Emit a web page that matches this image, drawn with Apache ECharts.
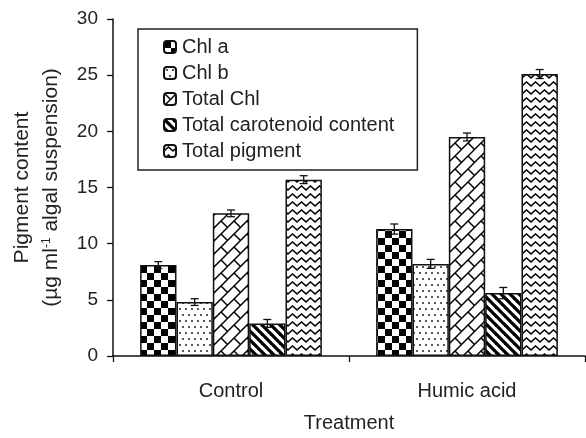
<!DOCTYPE html>
<html>
<head>
<meta charset="utf-8">
<script src="https://cdn.jsdelivr.net/npm/echarts@6/dist/echarts.min.js"></script>
<style>
html,body{margin:0;padding:0;background:#fff;}
#chart{width:586px;height:438px;}
</style>
</head>
<body>
<div id="chart"></div>
<script>
// ---- data ----
const categories = ['Control', 'Humic acid'];
const seriesNames = ['Chl a', 'Chl b', 'Total Chl', 'Total carotenoid content', 'Total pigment'];
const chlA = [8.1, 11.3];
const chlB = [4.8, 8.2];
const totalChl = [12.7, 19.5];
const carotenoid = [2.9, 5.6];
const totalPigment = [15.7, 25.1];
const chlAErr = [0.3, 0.45];
const chlBErr = [0.3, 0.4];
const totalChlErr = [0.3, 0.35];
const carotenoidErr = [0.35, 0.5];
const totalPigmentErr = [0.35, 0.4];
const yTicks = [0, 5, 10, 15, 20, 25, 30];

const values = [chlA, chlB, totalChl, carotenoid, totalPigment];
const errors = [chlAErr, chlBErr, totalChlErr, carotenoidErr, totalPigmentErr];

// ---- patterns ----
function tile(w, h, draw) {
  const c = document.createElement('canvas');
  c.width = w; c.height = h;
  const g = c.getContext('2d');
  g.fillStyle = '#fff'; g.fillRect(0, 0, w, h);
  g.strokeStyle = '#000'; g.fillStyle = '#000';
  draw(g, w, h);
  return { image: c, repeat: 'repeat' };
}
const patChecker = tile(14, 14, (g) => {
  g.fillRect(0, 0, 7, 7); g.fillRect(7, 7, 7, 7);
});
const patDots = tile(12, 12, (g) => {
  g.fillStyle = '#333';
  [[3, 3], [9, 3], [0, 9], [6, 9], [12, 9]].forEach(([x, y]) => { g.beginPath(); g.arc(x, y, 1.1, 0, Math.PI * 2); g.fill(); });
});
const patBrick = tile(13, 13, (g, s) => {
  g.lineWidth = 1.5;
  const seg = (a, b, c, d) => { g.beginPath(); g.moveTo(a, b); g.lineTo(c, d); g.stroke(); };
  seg(-1, s + 1, s + 1, -1);
  seg(-1, 1, 1, -1); seg(s - 1, s + 1, s + 1, s - 1);
  seg(0, 0, s / 2, s / 2);
  seg(s, s, s + 2, s + 2);
});
const patStripes = tile(9, 9, (g, s) => {
  g.lineWidth = 3.3;
  const seg = (a, b, c, d) => { g.beginPath(); g.moveTo(a, b); g.lineTo(c, d); g.stroke(); };
  seg(-2, -2, s + 2, s + 2);
  seg(-2 + s, -2, s + 2 + s, s + 2);
  seg(-2 - s, -2, s + 2 - s, s + 2);
});
const patZigzag = tile(9, 8, (g) => {
  g.lineWidth = 1.4;
  g.beginPath(); g.moveTo(-2.25, 2); g.lineTo(0, 6); g.lineTo(4.5, 2); g.lineTo(9, 6); g.lineTo(11.25, 2); g.stroke();
});
const patterns = [patChecker, patDots, patBrick, patStripes, patZigzag];

const GAP = 0.23;
const font = 'Liberation Sans, Arial, sans-serif';
const textColor = '#222';

const barSeries = seriesNames.map((name, i) => ({
  name: name,
  type: 'bar',
  data: values[i],
  barGap: '0%',
  barCategoryGap: (GAP * 100) + '%',
  itemStyle: { color: patterns[i], borderColor: '#111', borderWidth: 1.5 },
  emphasis: { disabled: true },
  z: 2
}));

const errData = [];
values.forEach((arr, i) => arr.forEach((v, j) => errData.push([j, v, errors[i][j], i])));

const errSeries = {
  type: 'custom',
  silent: true,
  z: 5,
  data: errData,
  renderItem: function (params, api) {
    const j = api.value(0), v = api.value(1), e = api.value(2), i = api.value(3);
    const band = api.size([1, 0])[0];
    const bw = band * (1 - GAP) / 5;
    const c = api.coord([j, v]);
    const x = c[0] + (i - 2) * bw;
    const top = api.coord([j, v + e])[1];
    const bot = api.coord([j, v - e])[1];
    const hw = 4;
    const st = { stroke: '#111', lineWidth: 1.3 };
    return {
      type: 'group',
      children: [
        { type: 'line', shape: { x1: x, y1: top, x2: x, y2: bot }, style: st },
        { type: 'line', shape: { x1: x - hw, y1: top, x2: x + hw, y2: top }, style: st },
        { type: 'line', shape: { x1: x - hw, y1: bot, x2: x + hw, y2: bot }, style: st }
      ]
    };
  }
};

const chart = echarts.init(document.getElementById('chart'), null, { renderer: 'canvas' });
chart.setOption({
  animation: false,
  backgroundColor: '#fff',
  textStyle: { fontFamily: font, color: textColor },
  grid: { left: 113, right: 1, top: 19, bottom: 77, containLabel: false },
  legend: {
    data: seriesNames,
    orient: 'vertical',
    left: 138,
    top: 29,
    padding: [8, 23, 9, 25],
    itemGap: 6,
    itemWidth: 12,
    itemHeight: 12,
    borderColor: '#222',
    borderWidth: 1.5,
    backgroundColor: '#fff',
    selectedMode: false,
    textStyle: { fontFamily: font, fontSize: 20, color: textColor, padding: [0, 0, 0, 1] }
  },
  xAxis: {
    type: 'category',
    data: categories,
    name: 'Treatment',
    nameLocation: 'middle',
    nameGap: 57,
    nameTextStyle: { fontFamily: font, fontSize: 20, color: textColor },
    axisLine: { lineStyle: { color: '#111', width: 1.5 } },
    axisTick: { show: true, length: 6, lineStyle: { color: '#111', width: 1.3 } },
    axisLabel: { fontFamily: font, fontSize: 20, color: textColor, margin: 25 }
  },
  yAxis: {
    type: 'value',
    min: yTicks[0],
    max: yTicks[yTicks.length - 1],
    interval: yTicks[1] - yTicks[0],
    name: '{a|Pigment content}\n{a|(µg ml}{s|-1}{a| algal suspension)}',
    nameLocation: 'middle',
    nameGap: 47,
    nameTextStyle: {
      fontFamily: font, color: textColor,
      rich: {
        a: { fontFamily: font, fontSize: 21, color: textColor, lineHeight: 29 },
        s: { fontFamily: font, fontSize: 12, color: textColor, lineHeight: 29, padding: [0, 0, 10, 0] }
      }
    },
    axisLine: { show: true, lineStyle: { color: '#111', width: 1.5 } },
    axisTick: { show: true, length: 6, lineStyle: { color: '#111', width: 1.3 } },
    axisLabel: { fontFamily: font, fontSize: 19, color: textColor, margin: 15 },
    splitLine: { show: false }
  },
  series: barSeries.concat([errSeries])
});
</script>
</body>
</html>
